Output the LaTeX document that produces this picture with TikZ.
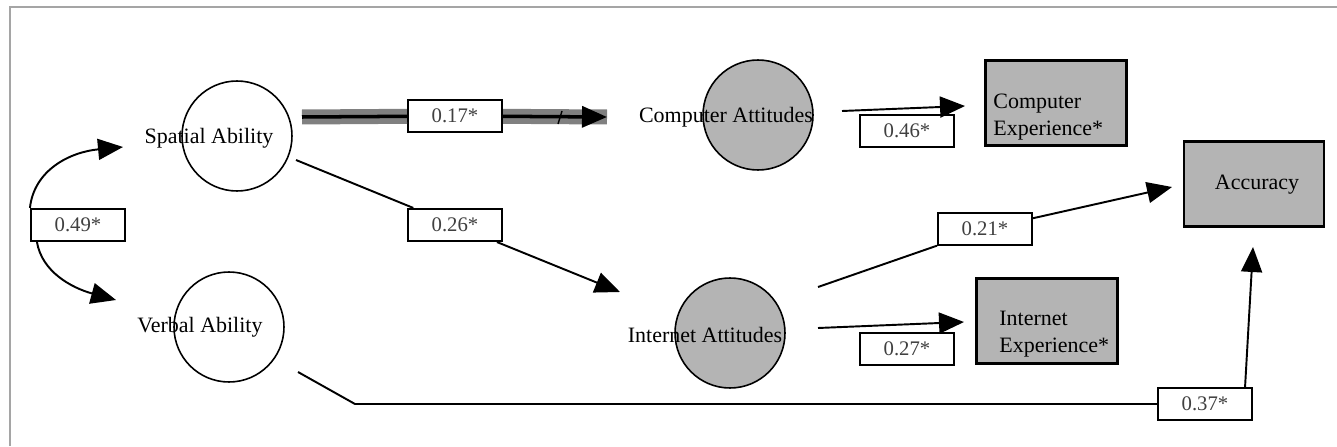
\documentclass[tikz,border=0pt]{standalone}
\usepackage{fontspec}
\setmainfont{Liberation Serif}
\usetikzlibrary{arrows.meta}
\definecolor{shade}{RGB}{180,180,180}
\definecolor{framegray}{RGB}{165,165,165}
\tikzstyle{arrow} = [line width=1.1pt,-{Triangle[length=0.5cm,width=0.42cm]}]
\tikzstyle{plainline} = [line width=1.1pt]
\tikzstyle{latent} = [circle, minimum size=2.2cm, draw=black, line width=0.9pt]
\tikzstyle{measured} = [rectangle, minimum width=2.82cm, minimum height=1.7cm, draw=black, fill=shade, line width=1.2pt]
\tikzstyle{coef} = [rectangle, minimum width=1.88cm, minimum height=0.64cm, draw=black, fill=white, line width=1.2pt, text=black!75, font=\fontsize{11.8}{14}\selectfont]
\tikzstyle{vartext} = [inner sep=0pt, font=\fontsize{12.5}{15}\selectfont]

\begin{document}
\begin{tikzpicture}[x=0.02cm, y=-0.02cm]
		\useasboundingbox (0,0) rectangle (1337,446);
		\draw [framegray, line width=1.7pt] (10,446) -- (10,7) -- (1337,7);
		% latent variables
		\node (spatial) [latent] at (237,136) {};
		\node (spatialtxt) [vartext] at (209,138) {Spatial Ability};
		\node (verbal) [latent] at (229,327) {};
		\node (verbaltxt) [vartext] at (200,327) {Verbal Ability};
		\node (compatt) [latent, fill=shade] at (758,115) {};
		\node (compatttxt) [vartext] at (726,117) {Computer Attitudes};
		\node (netatt) [latent, fill=shade] at (730,333) {};
		\node (netatttxt) [vartext] at (705,335) {Internet Attitudes};
		% measured variables
		\node (compexp) [measured] at (1056,103) {};
		\node (compexptxt) [vartext, anchor=west, align=left] at (993,117) {Computer\\Experience*};
		\node (netexp) [measured] at (1047,321) {};
		\node (netexptxt) [vartext, anchor=west, align=left] at (999,334) {Internet\\Experience*};
		\node (accuracy) [measured, minimum width=2.8cm] at (1254,184) {};
		\node (accuracytxt) [vartext] at (1257,185) {Accuracy};
		% path coefficients
		\node (c049) [coef] at (78,225) {0.49*};
		\node (c017) [coef] at (455,116) {0.17*};
		\node (c026) [coef] at (455,225) {0.26*};
		\node (c046) [coef] at (907,131) {0.46*};
		\node (c021) [coef] at (985,229) {0.21*};
		\node (c027) [coef] at (907,349) {0.27*};
		\node (c037) [coef] at (1205,404) {0.37*};
		% end points of the paths
		\coordinate (spatialin) at (123,147);
		\coordinate (verbalin) at (116,300);
		\coordinate (spatialout) at (302,117);
		\coordinate (compattin) at (607,117);
		\coordinate (spatialout2) at (296,160);
		\coordinate (netattin) at (620,292);
		\coordinate (compattout) at (842,111);
		\coordinate (compexpin) at (965,106);
		\coordinate (netattout) at (818,287);
		\coordinate (accin) at (1172,187);
		\coordinate (netattout2) at (818,328);
		\coordinate (netexpin) at (964,322);
		\coordinate (verbalout) at (298,372);
		\coordinate (bend) at (355,404);
		\coordinate (accbelow) at (1253,247);
		% correlation
		\draw [arrow] (c049.north west) .. controls (34,170) and (70,152) .. (spatialin);
		\draw [arrow] ([xshift=0.14cm]c049.south west) .. controls (42,272) and (72,288) .. (verbalin);
		% paths
		\draw [gray, line width=0.3cm] (spatialout) -- (c017) -- (compattin);
		\draw [arrow, line width=2pt] (spatialout) -- (c017) -- (compattin);
		\draw [line width=0.8pt] (558,124) -- (562,111);
		\draw [arrow] (spatialout2) -- (c026) -- (netattin);
		\draw [arrow] (compattout) -- (compexpin);
		\draw [arrow] (netattout) -- (c021) -- (accin);
		\draw [arrow] (netattout2) -- (netexpin);
		\draw [plainline] (verbalout) -- (bend) -- (c037);
		\draw [arrow] ([xshift=-0.16cm]c037.north east) -- (accbelow);
	\end{tikzpicture}
\end{document}
